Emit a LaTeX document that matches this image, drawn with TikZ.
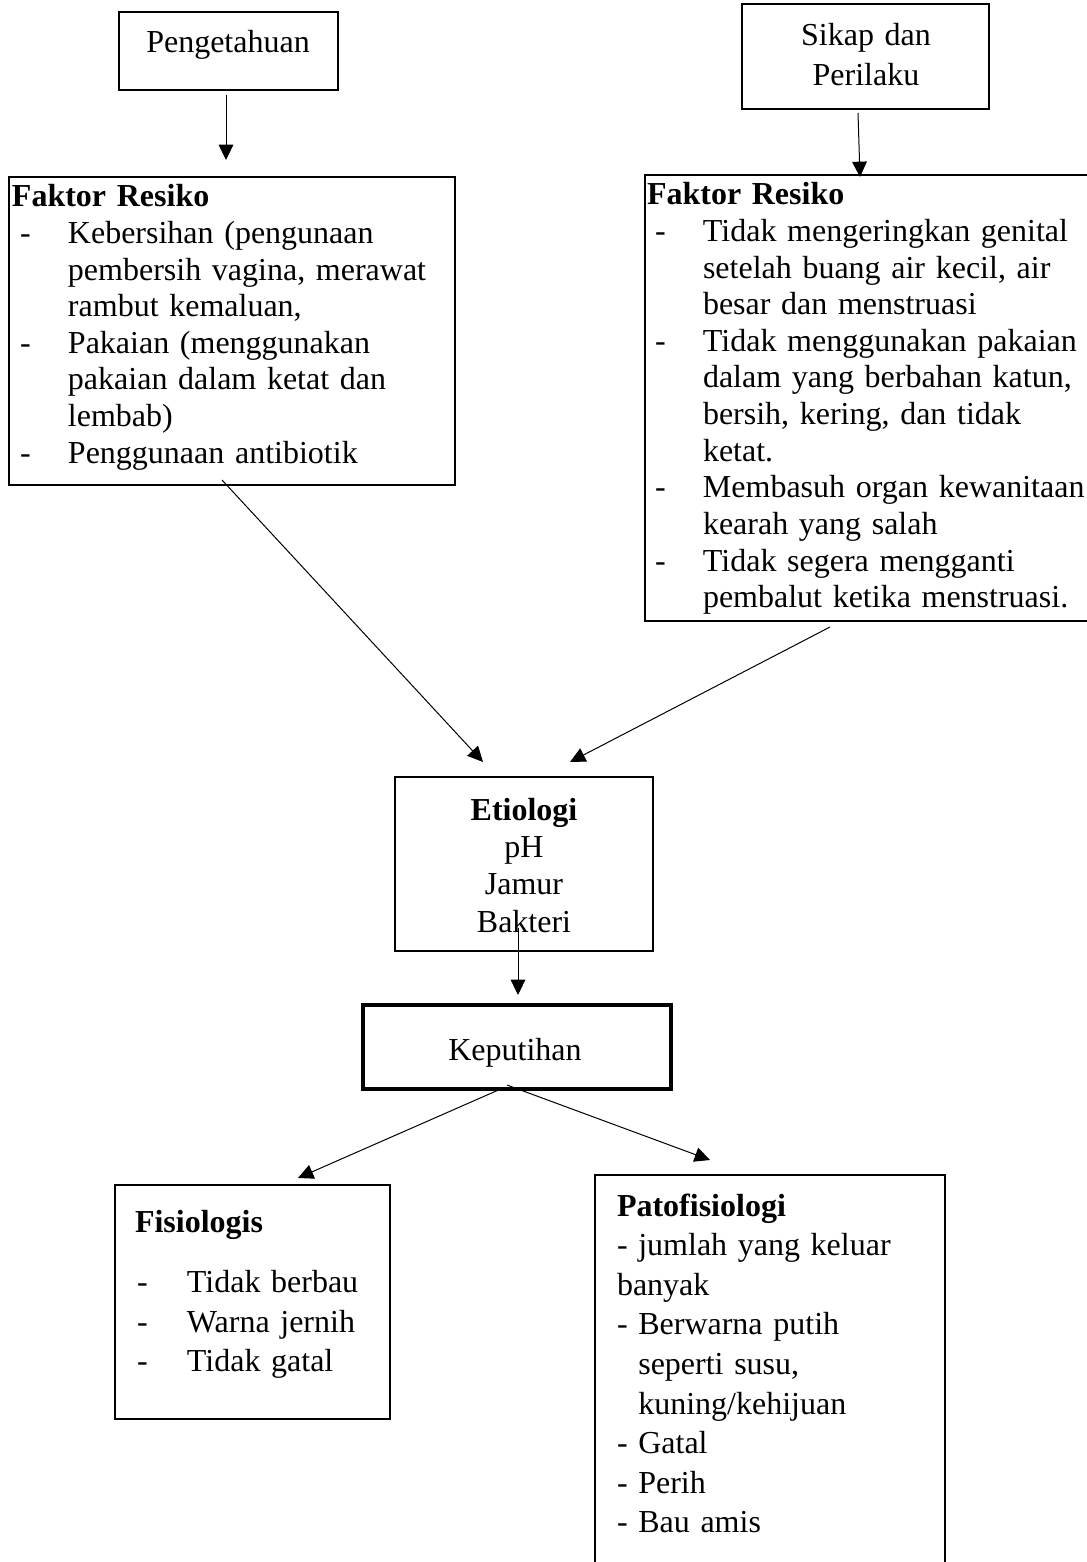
\documentclass[tikz,border=0pt]{standalone}
\usepackage{fontspec}
\setmainfont{Liberation Serif}
\usetikzlibrary{arrows.meta}
\newcommand{\dashitem}{\makebox[42pt][l]{\hspace*{6pt}-}}
\newcommand{\contline}{\hspace*{42pt}}
\newcommand{\fdash}{\makebox[39pt][l]{\hspace*{1.5pt}-}}
\begin{document}
\begin{tikzpicture}[x=0.75pt,y=-0.75pt,
  box/.style={draw, line width=1.5pt, inner sep=0pt, outer sep=0pt},
  thickbox/.style={box, line width=2.6pt},
  txt/.style={inner sep=0pt, outer sep=0pt, font=\fontsize{24pt}{27.45pt}\selectfont},
  txtwide/.style={inner sep=0pt, outer sep=0pt, font=\fontsize{24pt}{29.7pt}\selectfont},
  conn/.style={line width=0.75pt, -{Triangle[length=11.5pt,width=11pt]}}
]
\fill[white] (0,0) rectangle (1087,1562);
\useasboundingbox (0,0) rectangle (1087,1562);

% boxes
\node[box, minimum width=164.25pt, minimum height=58.5pt] (peng) at (228.5,51) {};
\node[box, minimum width=185.25pt, minimum height=78.75pt] (sikap) at (865.5,56.5) {};
\node[box, minimum width=334.5pt, minimum height=231pt] (fkl) at (232,331) {};
\node[box, minimum width=335.25pt, minimum height=334.5pt] (fkr) at (868.5,398) {};
\node[box, minimum width=193.5pt, minimum height=130.5pt] (etio) at (524,864) {};
\node[thickbox, minimum width=231pt, minimum height=63pt] (keput) at (517,1047) {};
\node[box, minimum width=206.25pt, minimum height=175.5pt] (fisio) at (252.5,1302) {};
\node[box, minimum width=262.5pt, minimum height=300pt] (pato) at (770,1375) {};

% texts
\node[txt, anchor=base] (tpeng) at (228,53) {Pengetahuan};
\node[txtwide, anchor=base, text width=180pt, align=center] (tsikap) at (866,46) {Sikap dan\\Perilaku};
\node[txt, anchor=base west, text width=335pt, align=left] (tfkl) at (12,207) {%
\textbf{Faktor Resiko}\\
\dashitem Kebersihan (pengunaan\\
\contline pembersih vagina, merawat\\
\contline rambut kemaluan,\\
\dashitem Pakaian (menggunakan\\
\contline pakaian dalam ketat dan\\
\contline lembab)\\
\dashitem Penggunaan antibiotik};
\node[txt, anchor=base west, text width=335pt, align=left] (tfkr) at (647,205) {%
\textbf{Faktor Resiko}\\
\dashitem Tidak mengeringkan genital\\
\contline setelah buang air kecil, air\\
\contline besar dan menstruasi\\
\dashitem Tidak menggunakan pakaian\\
\contline dalam yang berbahan katun,\\
\contline bersih, kering, dan tidak\\
\contline ketat.\\
\dashitem Membasuh organ kewanitaan\\
\contline kearah yang salah\\
\dashitem Tidak segera mengganti\\
\contline pembalut ketika menstruasi.};
\node[inner sep=0pt, outer sep=0pt, font=\fontsize{24pt}{28pt}\selectfont, anchor=base, text width=185pt, align=center] (tetio) at (524,820) {\textbf{Etiologi}\\pH\\Jamur\\Bakteri};
\node[txt, anchor=base] (tkeput) at (515,1060) {Keputihan};
\node[txtwide, anchor=base west, text width=200pt, align=left] (tfisio) at (135,1232) {%
\textbf{Fisiologis}\\[15.75pt]
\fdash Tidak berbau\\
\fdash Warna jernih\\
\fdash Tidak gatal};
\node[txtwide, anchor=base west, text width=250pt, align=left] (tpato) at (617,1216) {%
\textbf{Patofisiologi}\\
- jumlah yang keluar\\
banyak\\
- Berwarna putih\\
\hphantom{- }seperti susu,\\
\hphantom{- }kuning/kehijuan\\
- Gatal\\
- Perih\\
- Bau amis};

% connector end points
\coordinate (a1s) at (226,95);   \coordinate (a1e) at (226,160);
\coordinate (a2s) at (858,113);  \coordinate (a2e) at (860,177);
\coordinate (a3s) at (222,480);  \coordinate (a3e) at (483,762);
\coordinate (a4s) at (830,627);  \coordinate (a4e) at (570,762);
\coordinate (a5s) at (518,928);  \coordinate (a5e) at (518,995);
\coordinate (a6s) at (503,1088); \coordinate (a6e) at (298,1178);
\coordinate (a7s) at (507,1085); \coordinate (a7e) at (710,1160);

\draw[conn] (a1s) -- (a1e);
\draw[conn] (a2s) -- (a2e);
\draw[conn] (a3s) -- (a3e);
\draw[conn] (a4s) -- (a4e);
\draw[conn] (a5s) -- (a5e);
\draw[conn] (a6s) -- (a6e);
\draw[conn] (a7s) -- (a7e);
\end{tikzpicture}
\end{document}
